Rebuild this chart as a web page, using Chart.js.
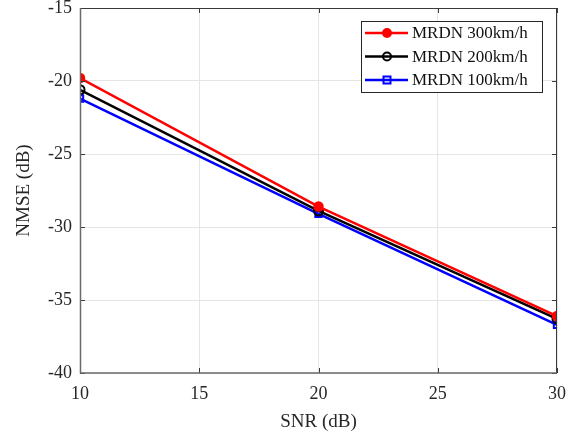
<!DOCTYPE html>
<html lang="en">
<head>
    <meta charset="UTF-8">
    <title>NMSE vs SNR</title>
    <script src="https://cdn.jsdelivr.net/npm/chart.js@4.4.1/dist/chart.umd.min.js"></script>
    <style>
        body { margin: 0; background: #fff; }
        #wrap { width: 582px; height: 436px; }
    </style>
</head>
<body>
    <div id="wrap"><canvas id="chart" width="582" height="436"></canvas></div>
    <script>
        const snr = [10, 20, 30];
        const nmse300 = [-19.8, -28.6, -36.1];
        const nmse200 = [-20.6, -28.9, -36.3];
        const nmse100 = [-21.2, -29.1, -36.7];
        const seriesLabels = ['MRDN 300km/h', 'MRDN 200km/h', 'MRDN 100km/h'];
        const xTicks = [10, 15, 20, 25, 30];
        const yTicks = [-40, -35, -30, -25, -20, -15];

        const FONT = '"Liberation Serif", "Times New Roman", serif';

        function toXY(ys) {
            return snr.map((x, i) => ({ x: x, y: ys[i] }));
        }

        // box, inward ticks and legend drawn like the matlab figure
        const boxPlugin = {
            id: 'box',
            afterDatasetsDraw(chart) {
                const { ctx, chartArea: a, scales } = chart;
                ctx.save();
                ctx.strokeStyle = '#3a3a3a';
                ctx.lineWidth = 1;
                ctx.beginPath();
                ctx.moveTo(a.left, a.top + 0.5); ctx.lineTo(a.right, a.top + 0.5);
                ctx.moveTo(a.right - 0.5, a.top); ctx.lineTo(a.right - 0.5, a.bottom);
                xTicks.forEach(v => {
                    const px = Math.round(scales.x.getPixelForValue(v)) + 0.5;
                    ctx.moveTo(px, a.bottom); ctx.lineTo(px, a.bottom - 5);
                    ctx.moveTo(px, a.top); ctx.lineTo(px, a.top + 5);
                });
                yTicks.forEach(v => {
                    const py = Math.round(scales.y.getPixelForValue(v)) + 0.5;
                    ctx.moveTo(a.left, py); ctx.lineTo(a.left + 5, py);
                    ctx.moveTo(a.right, py); ctx.lineTo(a.right - 5, py);
                });
                ctx.stroke();
                // left and bottom axis a bit heavier and grey
                ctx.strokeStyle = '#6a6a6a';
                ctx.lineWidth = 1.5;
                ctx.beginPath();
                ctx.moveTo(a.left + 0.5, a.top); ctx.lineTo(a.left + 0.5, a.bottom);
                ctx.lineTo(a.right, a.bottom);
                ctx.stroke();

                // legend
                const lx = 361, ly = 21, lw = 181, lh = 71;
                ctx.fillStyle = '#fff';
                ctx.fillRect(lx, ly, lw, lh);
                ctx.strokeStyle = '#262626';
                ctx.lineWidth = 1;
                ctx.strokeRect(lx + 0.5, ly + 0.5, lw, lh);
                ctx.font = '17px ' + FONT;
                ctx.textBaseline = 'middle';
                chart.data.datasets.forEach((ds, i) => {
                    const cy = ly + 12 + i * 23.5;
                    ctx.strokeStyle = ds.borderColor;
                    ctx.lineWidth = 2.5;
                    ctx.beginPath();
                    ctx.moveTo(lx + 4, cy); ctx.lineTo(lx + 47, cy);
                    ctx.stroke();
                    const mx = lx + 26;
                    ctx.lineWidth = 2;
                    ctx.beginPath();
                    if (ds.pointStyle === 'rect') {
                        ctx.rect(mx - 3.5, cy - 3.5, 7, 7);
                    } else {
                        ctx.arc(mx, cy, 4, 0, Math.PI * 2);
                    }
                    if (ds.pointBackgroundColor !== 'transparent') {
                        ctx.fillStyle = ds.pointBackgroundColor;
                        ctx.fill();
                    }
                    ctx.stroke();
                    ctx.fillStyle = '#111';
                    ctx.fillText(ds.label, lx + 51, cy + 1);
                });
                ctx.restore();
            }
        };

        const ctx = document.getElementById('chart').getContext('2d');
        const myChart = new Chart(ctx, {
            type: 'line',
            data: {
                datasets: [
                    {
                        label: seriesLabels[0],
                        data: toXY(nmse300),
                        borderColor: '#ff0000',
                        pointBackgroundColor: '#ff0000',
                        pointBorderColor: '#ff0000',
                        pointStyle: 'circle',
                        pointRadius: 4,
                        borderWidth: 2.5
                    },
                    {
                        label: seriesLabels[1],
                        data: toXY(nmse200),
                        borderColor: '#000000',
                        pointBackgroundColor: 'transparent',
                        pointBorderColor: '#000000',
                        pointStyle: 'circle',
                        pointRadius: 4.5,
                        pointBorderWidth: 2,
                        borderWidth: 2.5
                    },
                    {
                        label: seriesLabels[2],
                        data: toXY(nmse100),
                        borderColor: '#0000ff',
                        pointBackgroundColor: 'transparent',
                        pointBorderColor: '#0000ff',
                        pointStyle: 'rect',
                        pointRadius: 4.5,
                        pointBorderWidth: 2,
                        borderWidth: 2.5
                    }
                ]
            },
            options: {
                responsive: false,
                animation: false,
                layout: { padding: { left: 0, right: 25, top: 8, bottom: 0 } },
                plugins: {
                    legend: { display: false },
                    tooltip: { enabled: false }
                },
                scales: {
                    x: {
                        type: 'linear',
                        min: 10,
                        max: 30,
                        afterBuildTicks: axis => { axis.ticks = xTicks.map(v => ({ value: v })); },
                        afterFit: axis => { axis.height = 63; axis.paddingLeft = 0; axis.paddingRight = 0; },
                        grid: { color: '#e5e5e5', drawTicks: false },
                        border: { display: false },
                        ticks: { color: '#262626', font: { family: FONT, size: 18 }, padding: 10 },
                        title: { display: true, text: 'SNR (dB)', color: '#262626', font: { family: FONT, size: 19 }, padding: { top: 6, bottom: 3 } }
                    },
                    y: {
                        min: -40,
                        max: -15,
                        afterBuildTicks: axis => { axis.ticks = yTicks.map(v => ({ value: v })); },
                        afterFit: axis => { axis.width = 80; axis.paddingTop = 0; axis.paddingBottom = 0; },
                        grid: { color: '#e5e5e5', drawTicks: false },
                        border: { display: false },
                        ticks: { color: '#262626', font: { family: FONT, size: 18 }, padding: 8 },
                        title: { display: true, text: 'NMSE (dB)', color: '#262626', font: { family: FONT, size: 19 }, padding: { top: 13, bottom: 4 } }
                    }
                }
            },
            plugins: [boxPlugin]
        });
    </script>
</body>
</html>
